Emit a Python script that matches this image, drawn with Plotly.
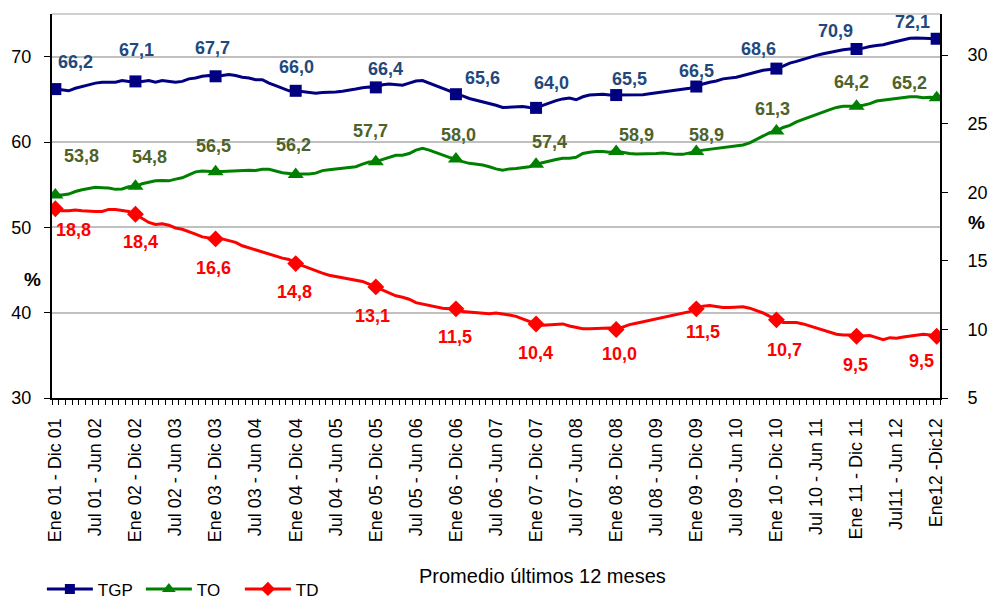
import plotly.graph_objects as go

# ---------------- data ----------------
tick_labels = [
    "Ene 01 - Dic 01", "Jul 01 - Jun 02", "Ene 02 - Dic 02", "Jul 02 - Jun 03",
    "Ene 03 - Dic 03", "Jul 03 - Jun 04", "Ene 04 - Dic 04", "Jul 04 - Jun 05",
    "Ene 05 - Dic 05", "Jul 05 - Jun 06", "Ene 06 - Dic 06", "Jul 06 - Jun 07",
    "Ene 07 - Dic 07", "Jul 07 - Jun 08", "Ene 08 - Dic 08", "Jul 08 - Jun 09",
    "Ene 09 - Dic 09", "Jul 09 - Jun 10", "Ene 10 - Dic 10", "Jul 10 - Jun 11",
    "Ene 11 - Dic 11", "Jul11 - Jun 12", "Ene12 -Dic12",
]

# monthly rolling 12-month averages, Dec 2001 .. Dec 2012 (133 points)
tgp = [
    66.2, 66.1, 66.0, 66.3, 66.5, 66.7, 66.9, 67.0, 67.0, 67.0, 67.2, 67.1,
    67.1, 67.1, 67.2, 67.0, 67.2, 67.1, 67.0, 67.1, 67.4, 67.5, 67.7, 67.8,
    67.7, 67.8, 67.9, 67.8, 67.6, 67.5, 67.3, 67.3, 66.9, 66.6, 66.3, 66.0,
    66.0, 65.9, 65.8, 65.7, 65.8, 65.8, 65.85, 65.95, 66.05, 66.2, 66.35, 66.45,
    66.4, 66.7, 66.8, 66.7, 66.65, 66.9, 67.15, 67.2, 66.9, 66.55, 66.3, 66.0,
    65.6, 65.4, 65.1, 64.9, 64.7, 64.55, 64.3, 64.05, 64.1, 64.15, 64.15, 64.05,
    64.0, 64.3, 64.6, 64.85, 65.05, 65.15, 64.95, 65.3, 65.5, 65.55, 65.6, 65.5,
    65.5, 65.5, 65.5, 65.55, 65.55, 65.65, 65.75, 65.9, 65.95, 66.05, 66.15, 66.3,
    66.5, 66.8, 67.0, 67.15, 67.4, 67.5, 67.6, 67.8, 68.0, 68.2, 68.4, 68.5,
    68.6, 68.9, 69.25, 69.45, 69.7, 69.9, 70.15, 70.35, 70.5, 70.7, 70.8, 70.9,
    70.9, 71.0, 71.2, 71.3, 71.4, 71.6, 71.8, 72.0, 72.15, 72.2, 72.15, 72.15,
    72.1,
]
to = [
    53.8, 53.8, 53.9, 54.2, 54.4, 54.55, 54.7, 54.65, 54.6, 54.45, 54.5, 54.75,
    54.8, 55.1, 55.25, 55.45, 55.5, 55.45, 55.65, 55.8, 56.15, 56.5, 56.6, 56.55,
    56.5, 56.55, 56.6, 56.65, 56.7, 56.7, 56.65, 56.8, 56.8, 56.6, 56.4, 56.3,
    56.2, 56.25, 56.25, 56.35, 56.65, 56.75, 56.85, 56.9, 57.0, 57.1, 57.4, 57.65,
    57.7, 57.95, 58.25, 58.45, 58.45, 58.65, 59.05, 59.25, 59.05, 58.75, 58.45, 58.2,
    58.0, 57.7, 57.5, 57.4, 57.3, 57.1, 56.85, 56.7, 56.85, 56.9, 57.0, 57.1,
    57.4, 57.6, 57.8, 57.95, 58.1, 58.1, 58.2, 58.65, 58.8, 58.9, 58.9, 58.8,
    58.9, 58.75, 58.65, 58.6, 58.6, 58.6, 58.65, 58.7, 58.6, 58.55, 58.55, 58.75,
    58.9, 59.05, 59.15, 59.25, 59.35, 59.45, 59.5, 59.65, 59.9, 60.3, 60.7, 61.1,
    61.3, 61.7, 61.95, 62.35, 62.65, 62.95, 63.25, 63.55, 63.8, 64.05, 64.2, 64.2,
    64.2, 64.3, 64.5, 64.8, 64.9, 65.0, 65.1, 65.2, 65.3, 65.3, 65.2, 65.25,
    65.2,
]
td = [
    18.8, 18.65, 18.65, 18.7, 18.65, 18.6, 18.6, 18.6, 18.75, 18.75, 18.7, 18.6,
    18.4, 18.1, 17.8, 17.65, 17.7, 17.6, 17.4, 17.3, 17.15, 16.95, 16.75, 16.65,
    16.6, 16.6, 16.5, 16.35, 16.1, 15.95, 15.8, 15.6, 15.45, 15.3, 15.2, 15.1,
    14.8, 14.65, 14.45, 14.3, 14.1, 13.95, 13.85, 13.8, 13.65, 13.6, 13.5, 13.3,
    13.1, 12.9, 12.65, 12.45, 12.35, 12.2, 11.95, 11.85, 11.7, 11.6, 11.55, 11.5,
    11.5, 11.3, 11.25, 11.2, 11.15, 11.15, 11.2, 11.15, 11.05, 10.95, 10.75, 10.6,
    10.4, 10.3, 10.35, 10.4, 10.4, 10.25, 10.15, 10.05, 10.05, 10.05, 10.05, 10.1,
    10.0, 10.2, 10.35, 10.45, 10.55, 10.65, 10.75, 10.85, 10.95, 11.1, 11.2, 11.3,
    11.5, 11.7, 11.75, 11.65, 11.6, 11.6, 11.65, 11.65, 11.55, 11.4, 11.2, 10.95,
    10.7, 10.5, 10.5, 10.5, 10.4, 10.25, 10.15, 10.0, 9.85, 9.65, 9.6, 9.6,
    9.5, 9.55, 9.55, 9.4, 9.25, 9.4, 9.35, 9.45, 9.5, 9.6, 9.65, 9.6,
    9.5,
]

# ---------------- styles ----------------
FONT = "Liberation Sans, Arial, sans-serif"
C_TGP, C_TO, C_TD = "#000080", "#008000", "#FF0000"
L_TGP, L_TO, L_TD = "#1F497D", "#4F6228", "#FF0000"

# label offsets (pixels) for the yearly data labels
off_tgp = [(20, 27), (1, 31), (-3, 28), (1, 24), (10, 18), (27, 16), (15, 25), (13, 16), (0, 16), (-18, 20), (-21, 18), (-24, 17)]
off_to = [(26, 39), (14, 29), (-2, 26), (-2, 29), (-5, 31), (3, 24), (13, 22), (20, 16), (10, 16), (-4, 22), (-5, 24), (-27, 15)]
off_td = [(18, -21), (5, -28), (-2, -29), (-1, -28), (-3, -29), (-1, -28), (-1, -29), (3, -25), (7, -23), (8, -30), (-1, -29), (-15, -25)]

n = len(tgp)
x = list(range(n))
mk = list(range(0, n, 12))
tickvals = list(range(0, n, 6))

fig = go.Figure()

series = [
    ("TGP", tgp, C_TGP, "square", 12, "y", L_TGP, off_tgp),
    ("TO", to, C_TO, "triangle-up", 14, "y", L_TO, off_to),
    ("TD", td, C_TD, "diamond", 13, "y2", L_TD, off_td),
]

annotations = []
for name, vals, col, sym, sz, yax, lcol, offs in series:
    fig.add_trace(go.Scatter(x=x, y=vals, mode="lines", line=dict(color=col, width=3),
                             yaxis=yax, showlegend=False, hoverinfo="skip"))
    fig.add_trace(go.Scatter(x=mk, y=[vals[i] for i in mk], mode="markers",
                             marker=dict(symbol=sym, size=sz, color=col),
                             yaxis=yax, showlegend=False))
    for (i, (dx, dy)) in zip(mk, offs):
        annotations.append(dict(
            x=i, y=vals[i], xref="x", yref=yax,
            text=f"{vals[i]:.1f}".replace(".", ","), showarrow=False,
            xshift=dx, yshift=dy,
            font=dict(family=FONT, size=18, color=lcol, weight="bold"),
        ))

# legend-only entries (line + marker)
for name, vals, col, sym, sz, yax, lcol, offs in series:
    fig.add_trace(go.Scatter(x=[None], y=[None], mode="lines+markers", name=name,
                             line=dict(color=col, width=3),
                             marker=dict(symbol=sym, size=sz - 2, color=col),
                             yaxis=yax))

W, H = 997, 599
L, R, T, B = 52, 57, 14, 201
pw, ph = W - L - R, H - T - B
def px(xp):
    return (xp - L) / pw
def py(yp):
    return (H - B - yp) / ph

annotations += [
    dict(text="<b>%</b>", x=px(22), y=py(292), xref="paper", yref="paper", showarrow=False,
         font=dict(family=FONT, size=19, color="black")),
    dict(text="Promedio últimos 12 meses", x=px(542), y=py(589), xref="paper", yref="paper",
         showarrow=False, font=dict(family=FONT, size=20, color="black")),
    dict(text="<b>%</b>", x=px(987), y=py(222), xref="paper", yref="paper", showarrow=False,
         font=dict(family=FONT, size=19, color="black")),
]

fig.update_layout(
    width=W, height=H,
    margin=dict(l=L, r=R, t=T, b=B, pad=0, autoexpand=False),
    paper_bgcolor="white", plot_bgcolor="white",
    font=dict(family=FONT, size=18, color="black"),
    showlegend=True,
    legend=dict(orientation="h", xref="container", yref="container",
                x=0.042, y=0.016, xanchor="left", yanchor="middle",
                font=dict(family=FONT, size=17, color="black"),
                bgcolor="rgba(0,0,0,0)", itemwidth=46, tracegroupgap=0,
                entrywidth=38, entrywidthmode="pixels"),
    annotations=annotations,
    xaxis=dict(
        range=[-0.5, n - 0.5], tickmode="array", tickvals=tickvals, ticktext=tick_labels,
        tickangle=-90, ticks="", showgrid=False, zeroline=False, automargin=False,
        showline=True, linecolor="black", linewidth=2,
        tickfont=dict(family=FONT, size=18, color="black"), ticklabelstandoff=11,
        minor=dict(tickmode="linear", tick0=-0.5, dtick=1, ticks="outside",
                   ticklen=5, tickcolor="black", tickwidth=1, showgrid=False),
    ),
    yaxis=dict(
        range=[30, 75], tickmode="array", tickvals=[30, 40, 50, 60, 70],
        showgrid=True, gridcolor="#C0C0C0", gridwidth=1.5, zeroline=False, automargin=False,
        showline=True, linecolor="black", linewidth=2,
        ticks="outside", ticklen=6, tickcolor="black",
        tickfont=dict(family=FONT, size=18, color="black"), ticklabelstandoff=9,
    ),
    yaxis2=dict(
        range=[5, 33], tickmode="array", tickvals=[5, 10, 15, 20, 25, 30],
        overlaying="y", side="right", showgrid=False, zeroline=False, automargin=False,
        showline=True, linecolor="black", linewidth=2,
        ticks="outside", ticklen=6, tickcolor="black",
        tickfont=dict(family=FONT, size=18, color="black"), ticklabelstandoff=16,
    ),
    shapes=[dict(type="line", xref="paper", yref="paper", x0=0, x1=1, y0=1, y1=1,
                 line=dict(color="#C0C0C0", width=1.5))],
)

fig.write_html("out.html", config={"displayModeBar": False},
               post_script="document.body.style.margin='0';")
